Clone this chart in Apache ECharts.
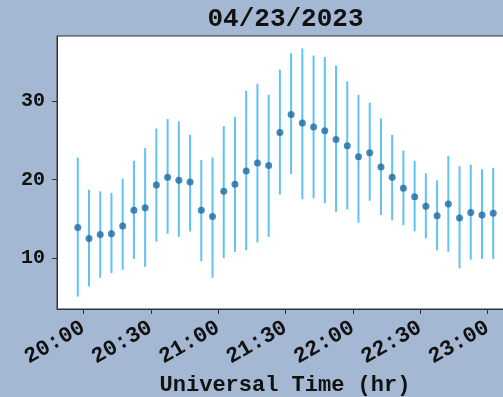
<!DOCTYPE html>
<html>
<head>
<meta charset="utf-8">
<script src="https://cdn.jsdelivr.net/npm/echarts@6/dist/echarts.min.js"></script>
<style>
html,body{margin:0;padding:0;background:#a4b8d3;overflow:hidden;width:503px;height:397px;}
#c{width:530px;height:397px;}
</style>
</head>
<body>
<div id="c"></div>
<script>
const titleText = '04/23/2023';
const xAxisName = 'Universal Time (hr)';
const timesUT = ['19:57:30','20:02:30','20:07:30','20:12:30','20:17:30','20:22:30','20:27:30','20:32:30','20:37:30','20:42:30',
  '20:47:30','20:52:30','20:57:30','21:02:30','21:07:30','21:12:30','21:17:30','21:22:30','21:27:30','21:32:30',
  '21:37:30','21:42:30','21:47:30','21:52:30','21:57:30','22:02:30','22:07:30','22:12:30','22:17:30','22:22:30',
  '22:27:30','22:32:30','22:37:30','22:42:30','22:47:30','22:52:30','22:57:30','23:02:30'];
const meanVals = [13.9,12.5,13.0,13.1,14.1,16.1,16.4,19.3,20.3,19.9,19.7,16.1,15.3,18.5,19.4,21.1,22.1,21.8,26.0,28.3,
  27.2,26.7,26.2,25.1,24.3,22.9,23.4,21.6,20.3,18.9,17.8,16.6,15.4,16.9,15.1,15.8,15.5,15.7];
const upperVals = [22.8,18.7,18.5,18.3,20.1,22.4,24.0,26.5,27.7,27.4,25.7,22.5,22.8,26.8,28.0,31.3,32.2,30.8,34.0,36.1,
  36.7,35.8,35.6,34.5,32.5,30.8,29.8,27.8,25.7,23.7,22.4,20.8,19.9,23.0,21.7,21.9,21.3,21.5];
const lowerVals = [5.1,6.4,7.5,8.1,8.5,9.9,8.9,12.1,13.1,12.7,13.4,9.6,7.5,10.0,10.8,11.0,12.0,12.7,18.1,20.7,
  17.5,17.6,17.0,15.9,16.2,14.5,17.3,15.5,14.8,14.2,13.4,12.5,11.0,10.8,8.7,9.8,9.9,9.9];
const xTickLabels = ['20:00','20:30','21:00','21:30','22:00','22:30','23:00'];
const yTicks = [10,20,30];

// minutes since 20:00
function toMin(s){const p=s.split(':').map(Number);return (p[0]-20)*60+p[1]+(p[2]||0)/60;}
const xMin = timesUT.map(toMin);
const xTickVals = xTickLabels.map(toMin);
function fmt(v){const h=20+Math.floor(v/60);const m=Math.round(v-(h-20)*60);return h+':'+(m<10?'0':'')+m;}

const font = 'Liberation Mono';
const chart = echarts.init(document.getElementById('c'), null, {renderer:'canvas'});
chart.setOption({
  backgroundColor:'#a4b8d3',
  animation:false,
  graphic:[
    {type:'text', x:285.5, y:19, style:{text:titleText, align:'center', verticalAlign:'middle',
      font:'bold 26px "Liberation Mono"', fill:'#111'}},
    {type:'text', x:285, y:385, style:{text:xAxisName, align:'center', verticalAlign:'middle',
      font:'bold 22px "Liberation Mono"', fill:'#111'}}
  ],
  grid:{left:57, width:457, top:36, height:273, show:true, backgroundColor:'#ffffff', borderColor:'#333', borderWidth:1},
  xAxis:{type:'value', min:-11.75, max:191.75,
    axisLine:{show:true, onZero:false, lineStyle:{color:'#333', width:1}},
    axisTick:{show:true, length:5, lineStyle:{color:'#333'}, customValues:xTickVals},
    axisLabel:{customValues:xTickVals, formatter:fmt, rotate:30, margin:17, fontFamily:font, fontWeight:'bold', fontSize:22, color:'#111'},
    splitLine:{show:false}},
  yAxis:{type:'value', min:3.52, max:38.28,
    axisLine:{show:true, onZero:false, lineStyle:{color:'#333', width:1}},
    axisTick:{show:true, length:5, lineStyle:{color:'#333'}, customValues:yTicks},
    axisLabel:{customValues:yTicks, margin:12, fontFamily:font, fontWeight:'bold', fontSize:20, color:'#111'},
    splitLine:{show:false}},
  series:[
    {type:'custom', data:xMin.map((x,i)=>[x, lowerVals[i], upperVals[i]]),
     encode:{x:0, y:[1,2]},
     renderItem:function(params, api){
       const x=api.value(0);
       const a=api.coord([x, api.value(1)]);
       const b=api.coord([x, api.value(2)]);
       return {type:'line', shape:{x1:a[0],y1:a[1],x2:b[0],y2:b[1]}, style:{stroke:'#5ec3f2', lineWidth:2}};
     }, z:2},
    {type:'scatter', data:xMin.map((x,i)=>[x, meanVals[i]]), symbol:'circle', symbolSize:7,
     itemStyle:{color:'#1b6aa3'}, z:3}
  ]
});
</script>
</body>
</html>
